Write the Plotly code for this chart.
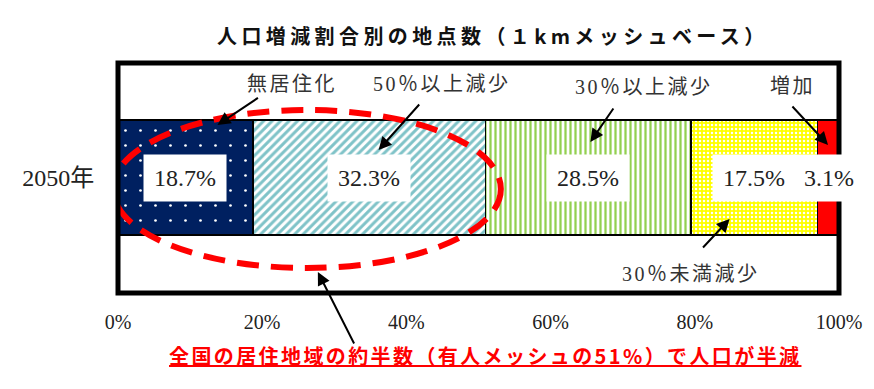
import plotly.graph_objects as go

# ---------------- data ----------------
category = ["2050年"]
series_names = ["無居住化", "50％以上減少", "30％以上減少", "30％未満減少", "増加"]
series_values = [18.7, 32.3, 28.5, 17.5, 3.1]
x_tickvals = [0, 20, 40, 60, 80, 100]
x_ticktext = ["0%", "20%", "40%", "60%", "80%", "100%"]
title_text = "人口増減割合別の地点数（１kmメッシュベース）"
note_text = "全国の居住地域の約半数（有人メッシュの51%）で人口が半減"

# ---------------- styles ----------------
styles = [
    dict(bg="#002060", fg="#ffffff", shape=".", size=15, solidity=0.025),
    dict(bg="#ffffff", fg="#7fc3c8", shape="/", size=6, solidity=0.5),
    dict(bg="#ffffff", fg="#92d050", shape="|", size=5, solidity=0.45),
    dict(bg="#ffff00", fg="#ffffff", shape=".", size=4, solidity=0.3),
    dict(bg="#ff0000", fg="#ff0000", shape="", size=8, solidity=0.5),
]

SERIF = "Liberation Serif, Noto Sans CJK JP, serif"
GOTHIC = "Noto Sans CJK JP, sans-serif"

fig = go.Figure()
for name, val, st in zip(series_names, series_values, styles):
    fig.add_trace(go.Bar(
        y=category, x=[val], name=name, orientation="h", width=1.0,
        marker=dict(color=st["bg"],
                    line=dict(color="black", width=1.5),
                    pattern=dict(shape=st["shape"], fgcolor=st["fg"], bgcolor=st["bg"],
                                 size=st["size"], solidity=st["solidity"], fillmode="replace")),
        hoverinfo="skip",
    ))

# value labels in white boxes at bar centers
annotations = []
cum = 0.0
for val in series_values:
    center = cum + val / 2
    cum += val
    annotations.append(dict(
        x=center, y=0, xref="x", yref="y", text=f"{val:.1f}%", showarrow=False,
        font=dict(family=SERIF, size=24, color="#222"), bgcolor="white", borderpad=10,
    ))

# category labels (text) with arrows
label_font = dict(family=SERIF, size=20, color="#333")
label_pos = {
    "無居住化": (24.2, 0.813),
    "50％以上減少": (44.9, 0.813),
    "30％以上減少": (72.9, 0.787),
    "増加": (93.6, 0.796),
    "30％未満減少": (79.5, -0.839),
}
for name in series_names:
    x, y = label_pos[name]
    annotations.append(dict(x=x, y=y, xref="x", yref="y",
                            text=f"<span style='letter-spacing:2.5px'>{name}</span>",
                            showarrow=False, font=label_font))

arrows = [
    (13.79, 0.457, 42, -28),
    (36.14, 0.239, 42, -47),
    (65.52, 0.309, 24, -35),
    (98.48, 0.283, -37, -40),
    (84.83, -0.361, -28, 30),
    (27.72, -0.822, 37, 73),
]
for hx, hy, ax, ay in arrows:
    annotations.append(dict(x=hx, y=hy, xref="x", yref="y", ax=ax, ay=ay, text="",
                            showarrow=True, arrowhead=2, arrowsize=1.3, arrowwidth=2,
                            arrowcolor="black"))

# title and note
annotations.append(dict(x=495, y=19, xref="paper", yref="paper",
                        text=f"<span style='letter-spacing:4.4px'><b>{title_text}</b></span>",
                        showarrow=False, font=dict(family=GOTHIC, size=20, color="#111")))
annotations.append(dict(x=487, y=372, xref="paper", yref="paper",
                        text=f"<span style='letter-spacing:2.4px'><b><u>{note_text}</u></b></span>",
                        showarrow=False, font=dict(family=GOTHIC, size=20, color="#ff0000")))

# convert pixel positions of title/note into paper coords
L, R, T, B = 118, 31, 63, 96
W, H = 874, 389
pw, ph = W - L - R, H - T - B
for a in annotations[-2:]:
    px, py = a["x"], a["y"]
    a["x"] = (px - L) / pw
    a["y"] = 1 - (py - T) / ph

shapes = [
    # red dashed ellipse
    dict(type="circle", xref="x", yref="y", x0=-0.7, x1=53.1, y0=-0.787, y1=0.587,
         line=dict(color="#ff0000", width=6, dash="22px,12px"), layer="above"),
    # thick frame
    dict(type="rect", xref="paper", yref="paper", x0=0, x1=1, y0=0, y1=1,
         line=dict(color="black", width=5), layer="above"),
]

fig.update_layout(
    width=W, height=H,
    margin=dict(l=L, r=R, t=T, b=B, pad=0),
    barmode="stack",
    showlegend=False,
    plot_bgcolor="white", paper_bgcolor="white",
    annotations=annotations, shapes=shapes,
    xaxis=dict(range=[0, 100], tickvals=x_tickvals, ticktext=x_ticktext, showgrid=False,
               zeroline=False, ticks="outside", ticklen=11, tickcolor="rgba(0,0,0,0)",
               tickfont=dict(family=SERIF, size=20, color="#222"), fixedrange=True),
    yaxis=dict(range=[-1.0043, 0.9957], showgrid=False, zeroline=False, ticks="outside",
               ticklen=18, tickcolor="rgba(0,0,0,0)",
               tickfont=dict(family=SERIF, size=24, color="#222"), fixedrange=True),
)

fig.write_html("out.html")
